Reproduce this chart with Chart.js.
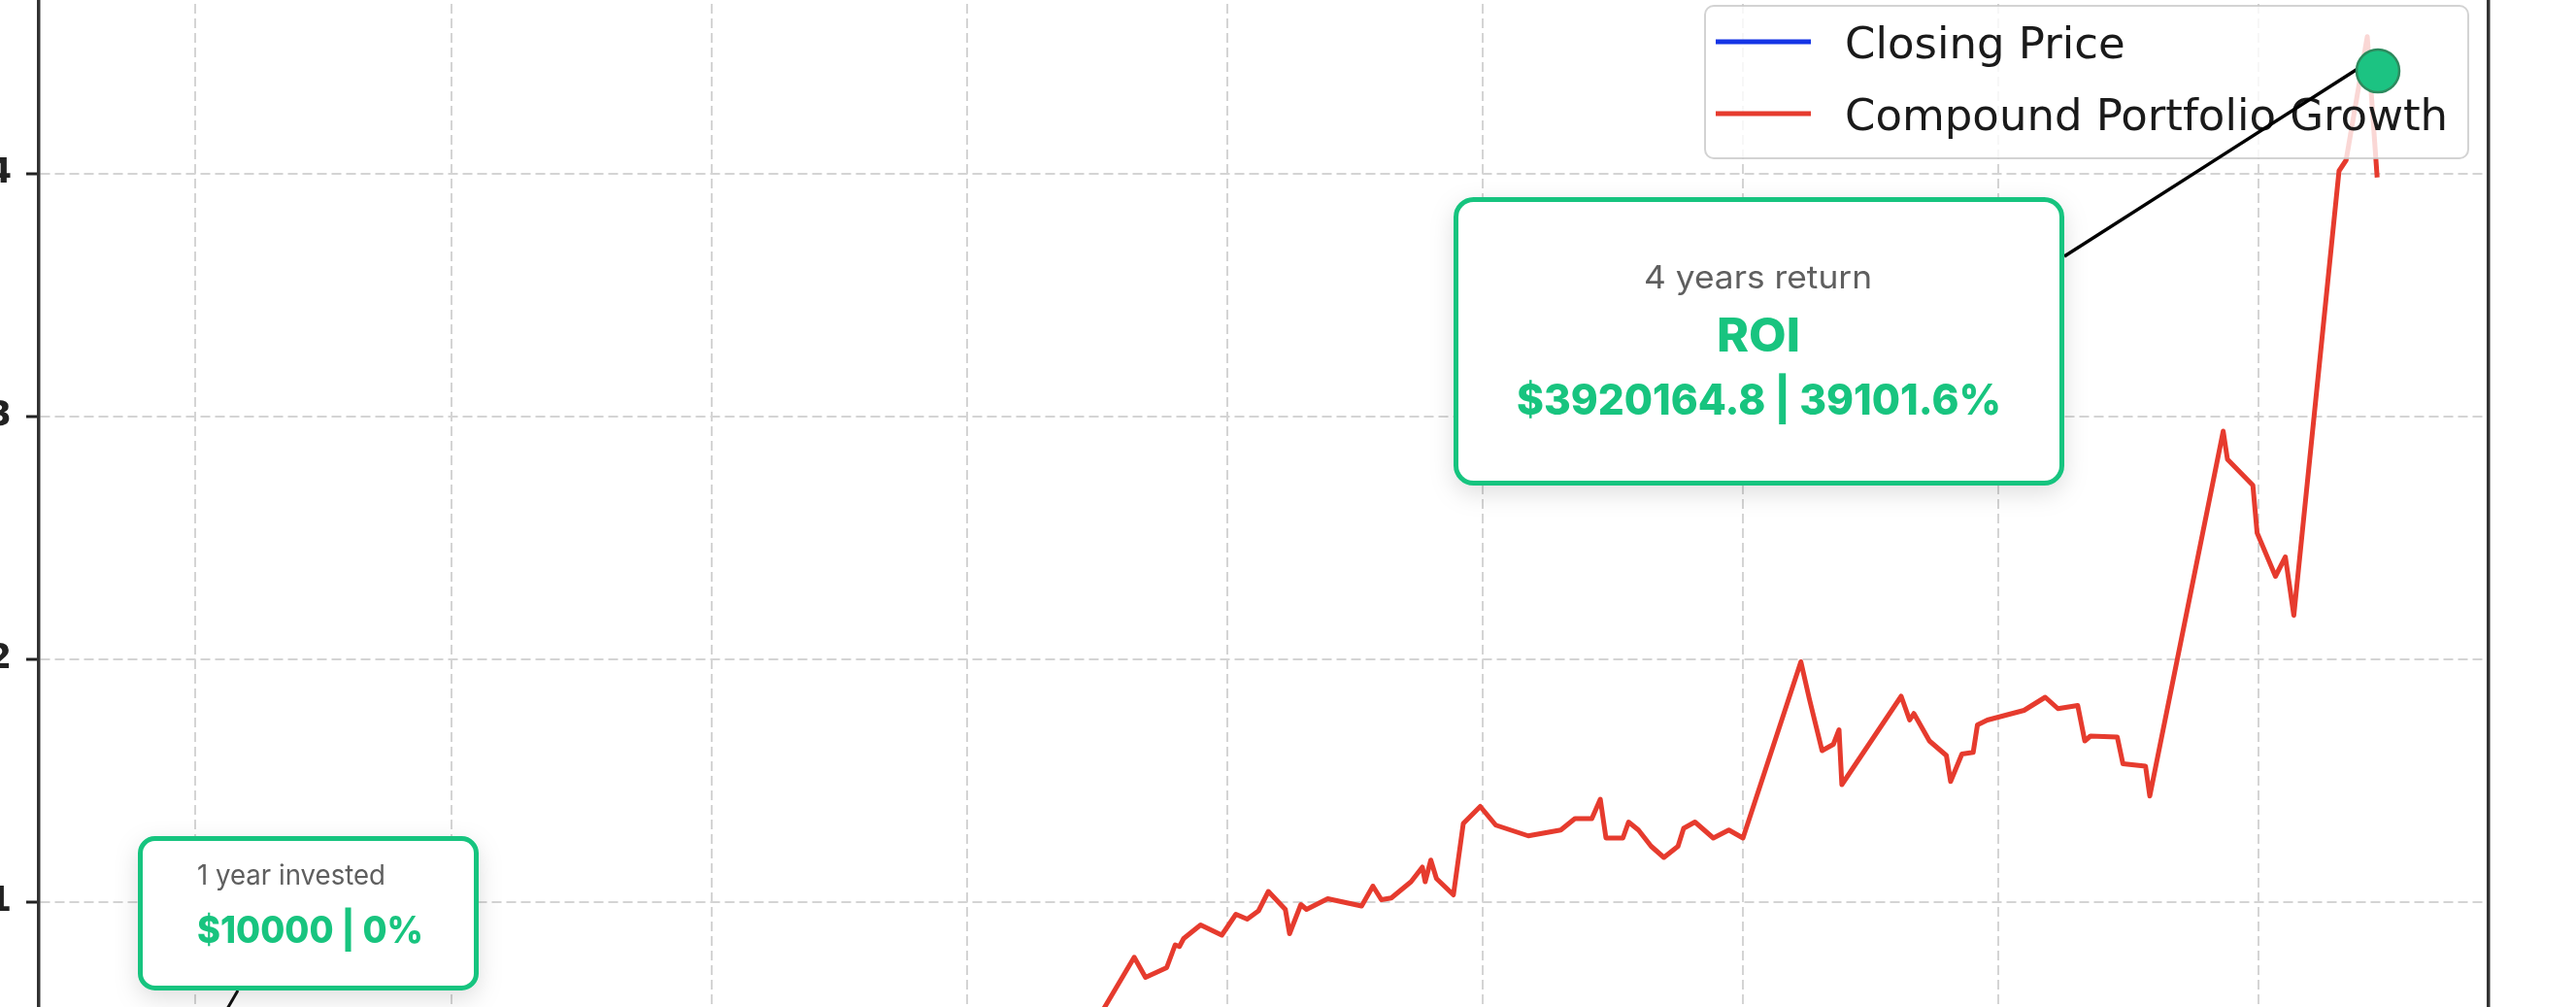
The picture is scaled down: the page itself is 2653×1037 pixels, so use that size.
<!DOCTYPE html>
<html>
<head>
<meta charset="utf-8">
<script src="https://cdn.jsdelivr.net/npm/chart.js@4.4.1/dist/chart.umd.min.js"></script>
<style>
  html, body { margin: 0; padding: 0; background: #ffffff; }
  #stage { position: relative; width: 2653px; height: 1037px; overflow: hidden; background: #ffffff; }
  #chart { position: absolute; left: -100px; top: -150px; }
  #overlay { position: absolute; left: 0; top: 0; pointer-events: none; }
</style>
</head>
<body>
<div id="stage">
  <canvas id="chart" width="2703" height="1390" style="width:2703px;height:1390px"></canvas>
  <svg id="overlay" width="2653" height="1037" viewBox="0 0 2653 1037" xmlns="http://www.w3.org/2000/svg">
    <defs>
      <filter id="sh" x="-20%" y="-30%" width="140%" height="170%">
        <feDropShadow dx="0" dy="8" stdDeviation="12" flood-color="#000" flood-opacity="0.13"/>
      </filter>
    </defs>
    <line id="connStart" x1="245" y1="1020" x2="155" y2="1176" stroke="#111" stroke-width="3"/>
    <line x1="2126" y1="264" x2="2428" y2="71" stroke="#000" stroke-width="3.5"/>
    <circle cx="2449" cy="73" r="22" fill="#1cc382" stroke="#2d8a5e" stroke-width="2.5"/>

    <rect x="1499.5" y="205.5" width="624" height="292" rx="18" ry="18" fill="#ffffff" stroke="#19c47f" stroke-width="5" filter="url(#sh)"/>
    <text x="1810.5" y="297" text-anchor="middle" font-family="Inter" font-size="33" font-weight="400" fill="#5f5f5f" textLength="235" lengthAdjust="spacingAndGlyphs">4 years return</text>
    <text x="1811" y="362" text-anchor="middle" font-family="Inter" font-size="48" font-weight="800" fill="#18c47f" textLength="86" lengthAdjust="spacingAndGlyphs">ROI</text>
    <text x="1811.5" y="427" text-anchor="middle" font-family="Inter" font-size="44" font-weight="800" fill="#18c47f" textLength="499" lengthAdjust="spacingAndGlyphs">$3920164.8 | 39101.6%</text>

    <rect x="144.5" y="863.5" width="346" height="154" rx="15" ry="15" fill="#ffffff" stroke="#19c47f" stroke-width="5" filter="url(#sh)"/>
    <text x="203" y="910.7" font-family="Inter" font-size="28.5" font-weight="400" fill="#5f5f5f" textLength="194" lengthAdjust="spacingAndGlyphs">1 year invested</text>
    <text x="203" y="970.7" font-family="Inter" font-size="38" font-weight="800" fill="#18c47f" textLength="233" lengthAdjust="spacingAndGlyphs">$10000 | 0%</text>
  </svg>
</div>
<script>
// ---- data (x = days from the first vertical gridline, y = portfolio value in millions) ----
const days = [
  -32, 150, 330, 480, 620,
  665, 673, 688, 694, 697, 700, 712, 727, 737, 745, 753, 760, 772, 775, 783, 787,
  802, 826, 834, 840, 847, 861, 869, 871, 875, 879, 891, 898, 910, 921, 944, 967,
  977, 989, 995, 999, 1011, 1015, 1022, 1031, 1040, 1050, 1054, 1062, 1075, 1086, 1096,
  1137, 1143, 1152, 1160, 1164, 1166, 1208, 1214, 1217, 1228, 1240, 1243, 1251, 1259,
  1262, 1269, 1295, 1310, 1319, 1333, 1338, 1342, 1361, 1365, 1381, 1384,
  1436, 1439, 1457, 1460, 1473, 1480, 1486, 1518, 1523, 1538, 1545
];
const portfolioGrowth = [
  0.010, 0.030, 0.080, 0.160, 0.330,
  0.773, 0.690, 0.730, 0.824, 0.817, 0.850, 0.906, 0.864, 0.950, 0.930, 0.964, 1.044, 0.970, 0.870, 0.990, 0.970,
  1.014, 0.984, 1.066, 1.010, 1.017, 1.084, 1.144, 1.084, 1.173, 1.097, 1.030, 1.324, 1.394, 1.317, 1.273, 1.297,
  1.344, 1.344, 1.424, 1.264, 1.264, 1.330, 1.297, 1.230, 1.184, 1.230, 1.304, 1.330, 1.264, 1.297, 1.264,
  1.990, 1.837, 1.624, 1.650, 1.710, 1.484, 1.848, 1.750, 1.777, 1.664, 1.604, 1.497, 1.610, 1.617,
  1.730, 1.750, 1.790, 1.844, 1.797, 1.810, 1.664, 1.684, 1.680, 1.570, 1.560, 1.437,
  2.940, 2.824, 2.717, 2.521, 2.342, 2.422, 2.181, 4.012, 4.056, 4.565, 3.985
];
const closingPrice = [];           // no visible closing-price trace in the picture
const seriesLabels = ['Closing Price', 'Compound Portfolio Growth'];
const xTicks = [0, 182, 366, 547, 731, 912, 1096, 1277, 1461];
const yTicks = [0, 1, 2, 3, 4, 5];
const yTickLabels = ['0', '1', '2', '3', '4', '5'];

const insideLegend = {
  id: 'insideLegend',
  afterDatasetsDraw(chart) {
    const { ctx, chartArea } = chart;
    const right = chartArea.right - 21, left = right - 786, top = chartArea.top + 77, h = 157;
    ctx.save();
    ctx.beginPath();
    if (ctx.roundRect) ctx.roundRect(left, top, right - left, h, 9);
    else ctx.rect(left, top, right - left, h);
    ctx.fillStyle = 'rgba(255,255,255,0.8)';
    ctx.fill();
    ctx.lineWidth = 2;
    ctx.strokeStyle = 'rgba(200,200,200,0.8)';
    ctx.stroke();
    ctx.font = '45px "DejaVu Sans"';
    ctx.textBaseline = 'alphabetic';
    ctx.textAlign = 'left';
    chart.data.datasets.forEach((ds, i) => {
      const cy = top + 37 + i * 74;
      ctx.strokeStyle = ds.borderColor;
      ctx.lineWidth = 5;
      ctx.beginPath();
      ctx.moveTo(left + 11, cy);
      ctx.lineTo(left + 109, cy);
      ctx.stroke();
      ctx.fillStyle = '#1a1a1a';
      ctx.fillText(ds.label, left + 144, cy + 16.5);
    });
    ctx.restore();
  }
};

const gridColor = '#d4d4d4';
const chart = new Chart(document.getElementById('chart'), {
  type: 'line',
  data: {
    datasets: [
      {
        label: seriesLabels[0],
        data: closingPrice,
        borderColor: '#1434e6',
        backgroundColor: '#1434e6',
        borderWidth: 5,
        pointRadius: 0
      },
      {
        label: seriesLabels[1],
        data: days.map((d, i) => ({ x: d, y: portfolioGrowth[i] })),
        borderColor: '#e63b2e',
        backgroundColor: '#e63b2e',
        borderWidth: 5,
        pointRadius: 0,
        tension: 0,
        borderJoinStyle: 'round'
      }
    ]
  },
  options: {
    responsive: false,
    devicePixelRatio: 1,
    animation: false,
    layout: { padding: { top: 79, left: 0, right: 0, bottom: 0 } },
    plugins: { legend: { display: false }, tooltip: { enabled: false } },
    scales: {
      x: {
        type: 'linear',
        min: -110.5,
        max: 1623.9,
        afterBuildTicks: s => { s.ticks = xTicks.map(v => ({ value: v })); },
        ticks: { display: false },
        grid: { color: gridColor, lineWidth: 2, drawTicks: false, borderDash: [10, 5] },
        border: { display: false, dash: [10, 5] },
        afterFit: s => { s.height = 61; }
      },
      y: {
        type: 'linear',
        position: 'left',
        min: 0,
        max: 5,
        afterBuildTicks: s => { s.ticks = yTicks.map(v => ({ value: v })); },
        ticks: {
          font: { family: 'DejaVu Sans', size: 35, weight: 'bold' },
          color: '#222',
          padding: 15,
          callback: (v) => yTickLabels[yTicks.indexOf(v)]
        },
        grid: {
          color: gridColor, lineWidth: 2, borderDash: [10, 5],
          tickLength: 13, tickColor: '#222', tickWidth: 3, tickBorderDash: []
        },
        border: { display: true, color: '#333', width: 3.5, dash: [10, 5] },
        afterFit: s => { s.width = 140; }
      },
      y2: {
        type: 'linear',
        position: 'right',
        min: 0,
        max: 5,
        ticks: { display: false },
        grid: { display: false, drawTicks: false },
        border: { display: true, color: '#333', width: 3.5 },
        afterFit: s => { s.width = 40; }
      }
    }
  },
  plugins: [insideLegend]
});

// connector from the "1 year invested" box to the first data point
(function () {
  const xs = chart.scales.x, ys = chart.scales.y;
  const cv = document.getElementById('chart');
  const offX = parseFloat(getComputedStyle(cv).left);
  const offY = parseFloat(getComputedStyle(cv).top);
  const px = xs.getPixelForValue(days[0]) + offX;
  const py = ys.getPixelForValue(portfolioGrowth[0]) + offY;
  const ln = document.getElementById('connStart');
  ln.setAttribute('x2', px.toFixed(1));
  ln.setAttribute('y2', py.toFixed(1));
})();
</script>
</body>
</html>
